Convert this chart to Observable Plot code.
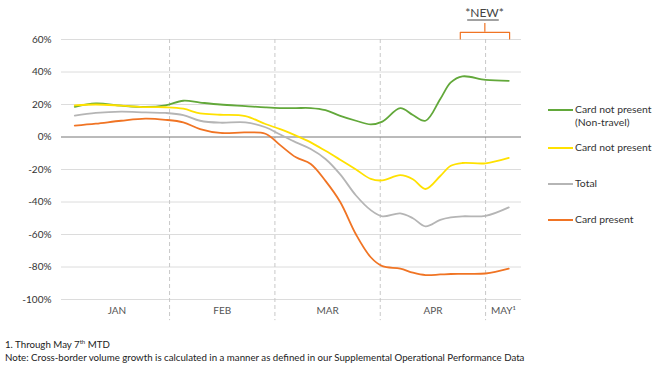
<!DOCTYPE html>
<html>
<head>
<meta charset="utf-8">
<script src="https://cdn.jsdelivr.net/npm/d3@7"></script>
<script src="https://cdn.jsdelivr.net/npm/@observablehq/plot@0.6"></script>
<style>
  html, body { margin: 0; padding: 0; background: #fff; }
  #wrap { position: relative; width: 654px; height: 369px; font-family: "Lato", "Noto Sans", sans-serif; color: #333; overflow: hidden; }
  #chart { position: absolute; left: 0; top: 0; }
  .leg { position: absolute; left: 548px; font-size: 10.4px; line-height: 13px; display: flex; align-items: flex-start; }
  .leg .sw { width: 25px; height: 2px; margin-top: 5.5px; margin-right: 2px; }
  .foot { position: absolute; left: 5px; font-size: 9.7px; white-space: nowrap; color: #222; }
  .foot sup { font-size: 6px; }
</style>
</head>
<body>
<div id="wrap">
  <div id="chart"></div>
  <div id="legend"></div>
  <div class="foot" style="top:338px">1. Through May 7<sup>th</sup> MTD</div>
  <div class="foot" style="top:351px">Note: Cross-border volume growth is calculated in a manner as defined in our Supplemental Operational Performance Data</div>
</div>
<script>
// x position in months since Jan 1 (0 = start of JAN, 1 = start of FEB, ...)
const xMonths = [0.10, 0.30, 0.54, 0.77, 0.96, 1.13, 1.29, 1.48, 1.72, 1.91, 2.05, 2.20, 2.34, 2.48, 2.62, 2.77, 2.91, 3.02, 3.19, 3.31, 3.43, 3.57, 3.67, 3.78, 4.00, 4.22];

// Cross-border volume growth, %
const cnpNonTravel = [18.6, 20.7, 19.3, 18.5, 19.5, 22.3, 21.2, 20.0, 19.0, 18.2, 17.8, 17.8, 17.8, 16.5, 13.0, 10.0, 7.8, 9.5, 17.8, 13.5, 10.0, 23.4, 33.6, 37.3, 35.2, 34.6];
const cnp          = [19.4, 20.0, 19.3, 18.4, 18.3, 17.4, 14.5, 13.7, 12.8, 8.0, 4.8, 0.8, -3.3, -8.5, -14.0, -20.0, -25.8, -26.7, -23.5, -26.0, -32.0, -24.0, -17.7, -16.0, -16.2, -12.9];
const total        = [13.1, 14.8, 15.6, 15.1, 14.8, 13.5, 10.0, 8.8, 9.0, 6.0, 1.5, -3.3, -7.4, -13.5, -23.0, -36.0, -45.0, -48.8, -47.0, -50.0, -55.0, -51.0, -49.5, -48.8, -48.5, -43.3];
const cardPresent  = [7.0, 8.2, 10.0, 11.3, 10.6, 9.0, 4.9, 2.5, 2.8, 2.0, -5.0, -12.5, -16.6, -27.0, -40.0, -60.0, -74.0, -79.5, -81.0, -83.5, -85.0, -84.6, -84.3, -84.2, -84.0, -81.0];

const seriesNames  = ["Card not present (Non-travel)", "Card not present", "Total", "Card present"];
const legendLines  = [["Card not present", "(Non-travel)"], ["Card not present"], ["Total"], ["Card present"]];
const seriesColors = ["#62a83a", "#ffe100", "#b5b5b5", "#f07424"];
const seriesValues = [cnpNonTravel, cnp, total, cardPresent];

const yTicks = [-100, -80, -60, -40, -20, 0, 20, 40, 60];
const monthBounds = [1, 2, 3, 4];
const monthTicks = [0.5, 1.5, 2.5, 3.5, 4.17];
const monthLabels = ["JAN", "FEB", "MAR", "APR", "MAY\u00B9"];

// "*NEW*" annotation (x in months, y in %)
const newLabel = {x: 3.99, y: 76.5, text: "*NEW*"};
const newUnderline = {x1: 3.83, x2: 4.13, y: 72};
const bracketX = [3.76, 3.76, 4.228, 4.228];
const bracketY = [60.3, 64.4, 64.4, 60.3];
const bracketTick = {x: 3.993, y1: 64.4, y2: 69.9};
const dashBottom = -113;

const rows = seriesNames.flatMap((name, i) =>
  xMonths.map((x, j) => ({series: name, x, y: seriesValues[i][j]})));

const chart = Plot.plot({
  width: 654,
  height: 330,
  marginLeft: 61,
  marginRight: 133,
  marginTop: 39,
  marginBottom: 31,
  style: {fontFamily: "Lato, 'Noto Sans', sans-serif", fontSize: "10px", color: "#333", background: "transparent"},
  x: {domain: [-0.026, 4.341]},
  y: {domain: [-100, 60]},
  color: {domain: seriesNames, range: seriesColors},
  marks: [
    Plot.ruleY(yTicks.filter(d => d !== 0), {stroke: "#dcdcdc", strokeWidth: 1}),
    Plot.ruleX(monthBounds, {y1: 60, y2: dashBottom, stroke: "#c8c8c8", strokeDasharray: "4,3", strokeWidth: 1}),
    Plot.ruleY([0], {stroke: "#777", strokeWidth: 1}),
    Plot.axisY(yTicks, {tickSize: 0, tickPadding: 10, tickFormat: d => `${d}%`, fill: "#333", fontSize: 10}),
    Plot.axisX(monthTicks, {tickSize: 0, tickPadding: 7, tickFormat: (d, i) => monthLabels[i], fill: "#555", fontSize: 10}),
    Plot.line(rows, {x: "x", y: "y", z: "series", stroke: "series", strokeWidth: 1.8, curve: "catmull-rom"}),
    Plot.line(bracketX.map((x, i) => ({x, y: bracketY[i]})), {x: "x", y: "y", stroke: "#f07424", strokeWidth: 1.2, strokeLinejoin: "round"}),
    Plot.ruleX([bracketTick], {x: "x", y1: "y1", y2: "y2", stroke: "#f07424", strokeWidth: 1.2}),
    Plot.text([newLabel], {x: "x", y: "y", text: "text", fontSize: 12, fill: "#444"}),
    Plot.ruleY([newUnderline], {x1: "x1", x2: "x2", y: "y", stroke: "#444", strokeWidth: 1})
  ]
});
document.getElementById("chart").appendChild(chart);

const legendTops = [103, 141, 177, 213];
const legend = document.getElementById("legend");
seriesNames.forEach((name, i) => {
  const item = document.createElement("div");
  item.className = "leg";
  item.style.top = legendTops[i] + "px";
  const sw = document.createElement("div");
  sw.className = "sw";
  sw.style.background = seriesColors[i];
  const txt = document.createElement("div");
  txt.innerHTML = legendLines[i].join("<br>");
  item.appendChild(sw);
  item.appendChild(txt);
  legend.appendChild(item);
});
</script>
</body>
</html>
